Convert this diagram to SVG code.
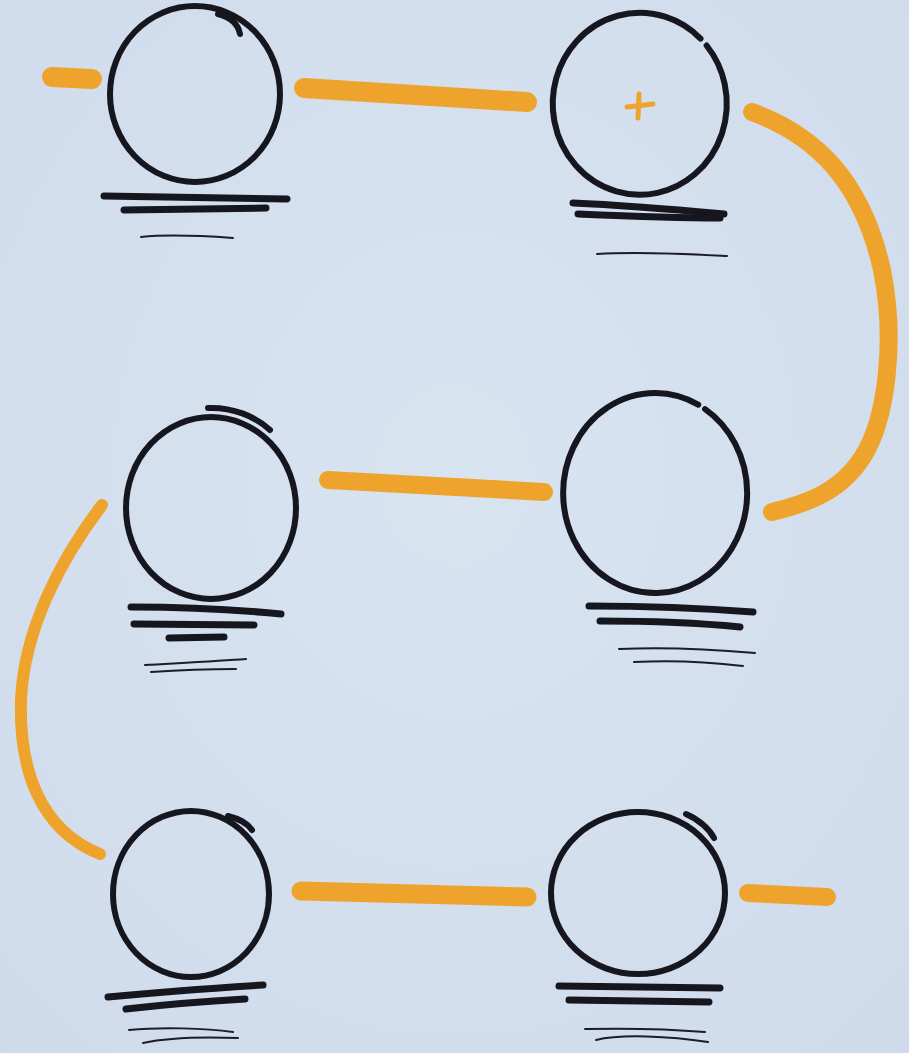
<svg xmlns="http://www.w3.org/2000/svg" width="909" height="1053" viewBox="0 0 909 1053">
<defs>
<style>
.ring{fill:none;stroke:#16161f;stroke-width:6;stroke-linecap:round}
.bar{fill:none;stroke:#16161f;stroke-width:7;stroke-linecap:round}
.thin{fill:none;stroke:#1c1c28;stroke-width:2;stroke-linecap:round}
.con{fill:none;stroke:#eea42c;stroke-linecap:round}
</style>
<radialGradient id="paper" cx="50%" cy="45%" r="75%">
<stop offset="0" stop-color="#d9e4f1"/>
<stop offset="1" stop-color="#cfdbeb"/>
</radialGradient>
</defs>
<rect width="909" height="1053" fill="url(#paper)"/>
<g id="connectors">
<path class="con" stroke-width="20" d="M52 77 L92 79"/>
<path class="con" stroke-width="20" d="M304 88 L527 102"/>
<path class="con" stroke-width="18" d="M752 112 C815 135 862 180 882 270 C896 340 887 420 862 458 C838 495 800 505 772 512"/>
<path class="con" stroke-width="18" d="M328 480 L544 492"/>
<path class="con" stroke-width="12" d="M102 505 C60 560 24 630 21 700 C19 770 40 830 100 854"/>
<path class="con" stroke-width="19" d="M301 891 L527 897"/>
<path class="con" stroke-width="18" d="M748 893 L827 897"/>
<path class="con" stroke-width="5" d="M627 107 L653 104 M639 94 L638 118"/>
</g>
<g id="node-1">
<ellipse class="ring" cx="195" cy="94" rx="85" ry="88"/>
<path class="ring" d="M218 14 C230 17 238 24 240 34"/>
<path class="bar" d="M104 196 L287 199"/>
<path class="bar" d="M124 210 L266 208"/>
<path class="thin" d="M141 237 C170 234 205 236 233 238"/>
</g>
<g id="node-2">
<path class="ring" d="M706.6 45.5 A87 91 0 1 1 700.5 38.6"/>
<path class="bar" d="M573 203 C620 205 680 210 724 214"/>
<path class="bar" d="M578 214 C625 216 680 218 720 218"/>
<path class="thin" d="M597 254 C640 251 690 254 727 256"/>
</g>
<g id="node-3">
<ellipse class="ring" cx="211" cy="508" rx="85" ry="91"/>
<path class="ring" d="M208 408 C232 407 255 416 270 430"/>
<path class="bar" d="M131 607 C180 607 240 610 281 614"/>
<path class="bar" d="M134 624 L254 625"/>
<path class="bar" d="M169 638 L224 637"/>
<path class="thin" d="M145 665 C180 663 220 661 246 659"/>
<path class="thin" d="M151 672 C180 670 215 669 236 669"/>
</g>
<g id="node-4">
<path class="ring" d="M705.1 409.1 A92 100 0 1 1 698.2 404.7"/>
<path class="bar" d="M589 606 C650 606 700 608 753 612"/>
<path class="bar" d="M600 621 C650 621 700 623 740 627"/>
<path class="thin" d="M619 649 C660 647 710 649 755 653"/>
<path class="thin" d="M634 662 C670 660 710 662 743 666"/>
</g>
<g id="node-5">
<ellipse class="ring" cx="191" cy="894" rx="78" ry="83"/>
<path class="ring" d="M228 816 C240 819 248 824 252 830"/>
<path class="bar" d="M108 997 C160 992 215 988 263 985"/>
<path class="bar" d="M126 1009 C170 1004 210 1001 245 999"/>
<path class="thin" d="M129 1030 C160 1027 205 1028 233 1032"/>
<path class="thin" d="M143 1043 C170 1037 210 1037 238 1038"/>
</g>
<g id="node-6">
<ellipse class="ring" cx="638" cy="893" rx="87" ry="81"/>
<path class="ring" d="M686 814 C700 820 710 830 714 838"/>
<path class="bar" d="M559 986 L720 988"/>
<path class="bar" d="M569 1000 L709 1002"/>
<path class="thin" d="M585 1029 C630 1028 670 1029 705 1032"/>
<path class="thin" d="M596 1040 C620 1034 670 1036 708 1042"/>
</g>
</svg>
